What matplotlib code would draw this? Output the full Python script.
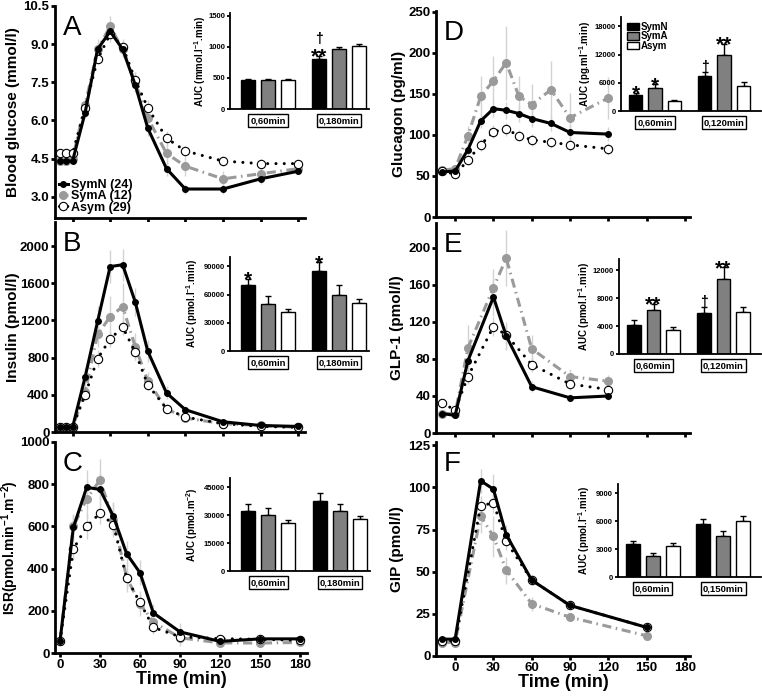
import matplotlib
matplotlib.use('Agg')
import matplotlib.pyplot as plt
from matplotlib.patches import Patch

plt.rcParams['font.family'] = ['Liberation Sans', 'DejaVu Sans']
plt.rcParams['font.weight'] = 'bold'
plt.rcParams['axes.labelweight'] = 'bold'
plt.rcParams['mathtext.fontset'] = 'custom'
plt.rcParams['mathtext.rm'] = 'Liberation Sans:bold'
plt.rcParams['mathtext.it'] = 'Liberation Sans:bold'
plt.rcParams['mathtext.bf'] = 'Liberation Sans:bold'
plt.rcParams['mathtext.default'] = 'rm'

# ---------------- data ----------------
# A: blood glucose (mmol/l)
t_ab = [-10, -5, 0, 10, 20, 30, 40, 50, 60, 75, 90, 120, 150, 180]
glu_symn = [4.4, 4.4, 4.4, 6.3, 8.8, 9.5, 8.8, 7.4, 5.7, 4.1, 3.3, 3.3, 3.7, 4.0]
glu_syma = [4.4, 4.4, 4.5, 6.6, 8.8, 9.7, 8.8, 7.5, 6.1, 4.7, 4.2, 3.7, 3.9, 4.1]
glu_asym = [4.7, 4.7, 4.7, 6.5, 8.4, 9.4, 8.9, 7.6, 6.5, 5.3, 4.8, 4.4, 4.3, 4.3]
glu_symn_err = [0.1, 0.1, 0.1, 0.2, 0.3, 0.3, 0.3, 0.3, 0.3, 0.3, 0.2, 0.2, 0.2, 0.1]
glu_syma_err = [0.1, 0.1, 0.1, 0.3, 0.4, 0.4, 0.3, 0.4, 0.5, 0.5, 0.4, 0.3, 0.3, 0.2]
glu_asym_err = [0.1, 0.1, 0.1, 0.2, 0.2, 0.3, 0.3, 0.3, 0.3, 0.3, 0.2, 0.2, 0.2, 0.1]

# B: insulin (pmol/l)
ins_symn = [50, 50, 50, 590, 1190, 1780, 1800, 1400, 870, 420, 240, 110, 70, 60]
ins_syma = [50, 50, 50, 430, 1050, 1240, 1350, 920, 550, 250, 150, 90, 70, 50]
ins_asym = [50, 50, 50, 400, 790, 1000, 1130, 860, 510, 250, 160, 90, 60, 50]
ins_symn_err = [10, 10, 10, 100, 170, 180, 170, 150, 120, 70, 40, 20, 10, 10]
ins_syma_err = [10, 10, 10, 80, 130, 220, 250, 150, 100, 50, 30, 20, 10, 10]
ins_asym_err = [10, 10, 10, 60, 90, 90, 90, 80, 60, 40, 20, 10, 10, 10]

# C: insulin secretion rate
t_c = [0, 10, 20, 30, 40, 50, 60, 70, 90, 120, 150, 180]
isr_symn = [55, 595, 785, 775, 648, 470, 380, 190, 100, 55, 67, 67]
isr_syma = [55, 600, 730, 820, 632, 357, 233, 147, 72, 48, 47, 50]
isr_asym = [55, 492, 600, 663, 608, 354, 240, 121, 77, 68, 65, 60]
isr_symn_err = [10, 60, 80, 80, 70, 60, 60, 40, 40, 10, 10, 10]
isr_syma_err = [10, 60, 90, 100, 80, 70, 60, 40, 40, 10, 10, 10]
isr_asym_err = [10, 50, 60, 50, 50, 40, 40, 30, 20, 10, 10, 10]

# D: glucagon (pg/ml)
t_d = [-10, 0, 10, 20, 30, 40, 50, 60, 75, 90, 120]
gcg_symn = [55, 56, 82, 117, 132, 130, 126, 120, 114, 103, 101]
gcg_syma = [57, 59, 99, 147, 166, 188, 147, 137, 155, 121, 145]
gcg_asym = [56, 52, 69, 88, 104, 107, 99, 94, 91, 88, 83]
gcg_symn_err = [4, 4, 6, 9, 10, 10, 10, 10, 9, 9, 9]
gcg_syma_err = [4, 4, 12, 25, 30, 45, 25, 25, 35, 30, 25]
gcg_asym_err = [4, 4, 6, 7, 8, 8, 7, 7, 7, 7, 7]

# E: GLP-1 (pmol/l)
t_e = [-10, 0, 10, 30, 40, 60, 90, 120]
glp_symn = [21, 19, 78, 147, 105, 50, 38, 40]
glp_syma = [21, 21, 92, 157, 189, 91, 61, 56]
glp_asym = [32, 25, 61, 115, 106, 74, 53, 47]
glp_symn_err = [3, 3, 10, 20, 15, 6, 4, 4]
glp_syma_err = [3, 3, 25, 20, 30, 15, 8, 7]
glp_asym_err = [4, 3, 8, 10, 10, 8, 6, 5]

# F: GIP (pmol/l)
t_f = [-10, 0, 20, 30, 40, 60, 90, 150]
gip_symn = [10, 10, 104, 99, 72, 45, 30, 17]
gip_syma = [8, 8, 83, 71, 51, 31, 23, 12]
gip_asym = [9, 9, 89, 91, 68, 45, 30, 17]
gip_symn_err = [1, 1, 7, 9, 6, 3, 2, 2]
gip_syma_err = [1, 1, 10, 12, 8, 4, 2, 2]
gip_asym_err = [1, 1, 6, 6, 5, 3, 2, 2]

# AUC insets: [SymN, SymA, Asym] for each window
auc_glu = [[460, 470, 465], [810, 965, 1015]]
auc_glu_err = [[15, 15, 10], [45, 30, 28]]
auc_ins = [[70000, 50000, 41000], [85000, 60000, 51000]]
auc_ins_err = [[7000, 8500, 3500], [9500, 10500, 4500]]
auc_isr = [[32500, 30000, 25700], [37500, 32000, 28000]]
auc_isr_err = [[3400, 4100, 1800], [4200, 4100, 1800]]
auc_gcg = [[3500, 4900, 2200], [7500, 12000, 5400]]
auc_gcg_err = [[350, 800, 200], [700, 2300, 700]]
auc_glp = [[4200, 6300, 3400], [5900, 10700, 6000]]
auc_glp_err = [[650, 900, 450], [800, 1750, 800]]
auc_gip = [[3600, 2300, 3300], [5700, 4400, 6000]]
auc_gip_err = [[260, 330, 360], [530, 500, 540]]

windows_180 = ['0,60min', '0,180min']
windows_120 = ['0,60min', '0,120min']
windows_150 = ['0,60min', '0,150min']

# significance marks per bar (SymN, SymA, Asym | SymN, SymA, Asym)
stars_glu = ['', '', '', '**', '', '']
dags_glu = ['', '', '', '†', '', '']
stars_ins = ['*', '', '', '*', '', '']
stars_gcg = ['*', '*', '', '', '**', '']
dags_gcg = ['', '', '', '†', '', '']
stars_glp = ['', '**', '', '', '**', '']
dags_glp = ['', '', '', '†', '', '']
none6 = [''] * 6

groups = ['SymN', 'SymA', 'Asym']
group_n = ['SymN (24)', 'SymA (12)', 'Asym (29)']

# ---------------- style ----------------
W, H = 762, 699
GRAY_LINE = '#9a9a9a'
GRAY_BAR = '#808080'
ERRC = '#d2d2d2'
bar_colors = ['black', GRAY_BAR, 'white']

fig = plt.figure(figsize=(W / 100, H / 100), dpi=100)


def px_axes(l, t, r, b):
    return fig.add_axes([l / W, 1 - b / H, (r - l) / W, (b - t) / H])


def main_axes(box, xlim, ylim, yticks, ylabel, letter, show_x, lab_off, lab_size=11):
    ax = px_axes(*box)
    for s in ['top', 'right']:
        ax.spines[s].set_visible(False)
    for s in ['left', 'bottom']:
        ax.spines[s].set_linewidth(2)
    ax.set_xlim(*xlim)
    ax.set_ylim(*ylim)
    ax.set_xticks([0, 30, 60, 90, 120, 150, 180])
    ax.set_yticks(yticks)
    ax.tick_params(direction='out', width=2, length=3, labelsize=9.5, pad=1)
    if not show_x:
        ax.tick_params(axis='x', labelbottom=False)
    else:
        ax.set_xlabel('Time (min)', fontsize=13, labelpad=0)
    ax.set_ylabel(ylabel, fontsize=lab_size)
    ax.yaxis.set_label_coords(-lab_off / (box[2] - box[0]), 0.5)
    fig.text((box[0] + 8) / W, 1 - (box[1] + 29) / H, letter, fontsize=20,
             fontweight='normal', va='baseline', ha='left')
    return ax


def draw_lines(ax, t, symn, syma, asym, e_symn, e_syma, e_asym):
    for y, e in [(syma, e_syma), (asym, e_asym), (symn, e_symn)]:
        ax.errorbar(t, y, yerr=e, fmt='none', ecolor=ERRC, elinewidth=1,
                    capsize=0, zorder=1)
    l1, = ax.plot(t, syma, color=GRAY_LINE, lw=2.2, linestyle=(0, (3, 1.5, 0.5, 1.5)),
                  marker='o', ms=5.5, mfc=GRAY_LINE, mec=GRAY_LINE, zorder=2)
    l2, = ax.plot(t, asym, color='black', lw=2.2, linestyle=(0, (0.01, 2.7)),
                  dash_capstyle='round', marker='o', ms=6, mfc='white',
                  mec='black', mew=0.8, zorder=3)
    l0, = ax.plot(t, symn, color='black', lw=2.2, marker='o', ms=4, zorder=4)
    return [l0, l1, l2]


def inset(box, xlim, ylim, yticks, ylabel, vals, errs, windows, stars, dags, lab_off):
    ax = px_axes(*box)
    for s in ['top', 'right']:
        ax.spines[s].set_visible(False)
    for s in ['left', 'bottom']:
        ax.spines[s].set_linewidth(1.3)
    ax.set_xlim(*xlim)
    ax.set_ylim(*ylim)
    ax.set_yticks(yticks)
    ax.set_xticks([])
    ax.tick_params(axis='y', direction='out', width=1.3, length=2.5, labelsize=5.5, pad=1)
    xs = [0, 1, 2, 3.55, 4.55, 5.55]
    flat = vals[0] + vals[1]
    flat_e = errs[0] + errs[1]
    for i, x in enumerate(xs):
        ax.bar(x, flat[i], width=0.7, color=bar_colors[i % 3], edgecolor='black', lw=1, zorder=2)
        ax.errorbar(x, flat[i], yerr=[[0], [flat_e[i]]], fmt='none', ecolor='black',
                    elinewidth=1, capsize=2.5, capthick=1, zorder=1)
        top = flat[i] + flat_e[i]
        if stars[i]:
            ax.annotate(stars[i], xy=(x, top), xytext=(0, -5), textcoords='offset points',
                        ha='center', va='baseline', fontsize=15, annotation_clip=False)
        if dags[i]:
            dy = 9 if stars[i] else 1
            ax.annotate(dags[i], xy=(x, top), xytext=(0, dy), textcoords='offset points',
                        ha='center', va='baseline', fontsize=10, annotation_clip=False)
    for cx, w in zip([1, 4.55], windows):
        ax.annotate(w, xy=(cx, 0), xycoords=('data', 'axes fraction'), xytext=(0, -8.5),
                    textcoords='offset points', ha='center', va='center', fontsize=6.8,
                    bbox=dict(boxstyle='square,pad=0.2', fc='white', ec='black', lw=1))
    ax.set_ylabel(ylabel, fontsize=7)
    ax.yaxis.set_label_coords(-lab_off / (box[2] - box[0]), 0.5)
    return ax


# ---------------- left column ----------------
axA = main_axes((55, 6, 305, 218), (-14, 185.5), (2.16, 10.5), [3.0, 4.5, 6.0, 7.5, 9.0, 10.5],
                'Blood glucose (mmol/l)', 'A', False, 35)
axA.set_yticklabels(['%.1f' % v for v in [3.0, 4.5, 6.0, 7.5, 9.0, 10.5]])
hA = draw_lines(axA, t_ab, glu_symn, glu_syma, glu_asym, glu_symn_err, glu_syma_err, glu_asym_err)
axA.legend(hA, group_n, loc='lower left', bbox_to_anchor=(0.015, 0.02), frameon=False,
           prop={'weight': 'bold', 'size': 9}, handlelength=0.7, handletextpad=0.3,
           labelspacing=-0.05, borderpad=0, borderaxespad=0)

axB = main_axes((55, 222, 305, 432), (-14, 185.5), (0, 2260), [0, 400, 800, 1200, 1600, 2000],
                'Insulin (pmol/l)', 'B', False, 35)
draw_lines(axB, t_ab, ins_symn, ins_syma, ins_asym, ins_symn_err, ins_syma_err, ins_asym_err)

axC = main_axes((55, 442, 307, 653), (-3.75, 185.2), (0, 1000), [0, 200, 400, 600, 800, 1000],
                'ISR(pmol.min$^{-1}$.m$^{-2}$)', 'C', True, 34, lab_size=10)
draw_lines(axC, t_c, isr_symn, isr_syma, isr_asym, isr_symn_err, isr_syma_err, isr_asym_err)

# ---------------- right column ----------------
axD = main_axes((436, 11, 690, 217), (-15, 184), (0, 251), [0, 50, 100, 150, 200, 250],
                'Glucagon (pg/ml)', 'D', False, 30)
draw_lines(axD, t_d, gcg_symn, gcg_syma, gcg_asym, gcg_symn_err, gcg_syma_err, gcg_asym_err)

axE = main_axes((436, 223, 690, 433), (-15, 184), (0, 227), [0, 40, 80, 120, 160, 200],
                'GLP-1 (pmol/l)', 'E', False, 32)
draw_lines(axE, t_e, glp_symn, glp_syma, glp_asym, glp_symn_err, glp_syma_err, glp_asym_err)

axF = main_axes((436, 442, 690, 656), (-15, 184), (0, 127), [0, 25, 50, 75, 100, 125],
                'GIP (pmol/l)', 'F', True, 32)
draw_lines(axF, t_f, gip_symn, gip_syma, gip_asym, gip_symn_err, gip_syma_err, gip_asym_err)

# ---------------- AUC insets ----------------
left_x = (-0.9, 6.05)
right_x = (-0.75, 6.45)
inset((230, 13, 369, 109), left_x, (0, 1545), [0, 500, 1000, 1500],
      'AUC (mmol.l$^{-1}$.min)', auc_glu, auc_glu_err, windows_180, stars_glu, dags_glu, 22)
inset((230, 257, 369, 351), left_x, (0, 100000), [0, 30000, 60000, 90000],
      'AUC (pmol.l$^{-1}$.min)', auc_ins, auc_ins_err, windows_180, stars_ins, none6, 30)
inset((230, 478, 370, 571), left_x, (0, 50000), [0, 15000, 30000, 45000],
      'AUC (pmol.m$^{-2}$)', auc_isr, auc_isr_err, windows_180, none6, none6, 30)
axDi = inset((621, 17, 761, 111), right_x, (0, 20000), [0, 6000, 12000, 18000],
             'AUC (pg.ml$^{-1}$.min)', auc_gcg, auc_gcg_err, windows_120, stars_gcg, dags_gcg, 28)
axDi.legend([Patch(fc=c, ec='black', lw=1) for c in bar_colors], groups, loc='upper left',
            bbox_to_anchor=(0.04, 0.95), frameon=False, prop={'weight': 'bold', 'size': 7},
            handlelength=1.25, handleheight=0.8, handletextpad=0.2, labelspacing=-0.05,
            borderpad=0, borderaxespad=0)
inset((619, 259, 761, 354), right_x, (0, 13600), [0, 4000, 8000, 12000],
      'AUC (pmol.l$^{-1}$.min)', auc_glp, auc_glp_err, windows_120, stars_glp, dags_glp, 27)
inset((618, 484, 761, 577), right_x, (0, 10000), [0, 3000, 6000, 9000],
      'AUC (pmol.l$^{-1}$.min)', auc_gip, auc_gip_err, windows_150, none6, none6, 26)

fig.savefig('out.png', dpi=100)
